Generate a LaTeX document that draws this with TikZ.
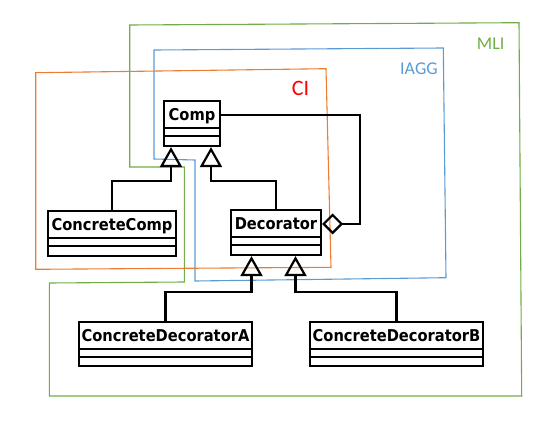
\documentclass[tikz,border=0pt]{standalone}
\usepackage{fontspec}
\newfontfamily\clsfont[FakeStretch=0.9]{DejaVu Sans}
\newfontfamily\lblfont{Carlito}
\usetikzlibrary{arrows.meta,calc}
\definecolor{mligreen}{HTML}{70AD47}
\definecolor{iaggblue}{HTML}{5B9BD5}
\definecolor{ciorange}{HTML}{ED7D31}
\definecolor{cired}{HTML}{FF0000}
\tikzset{
  clsline/.style={draw=black, line width=2.2pt, miter limit=10},
  classbox/.style={clsline, fill=white, rectangle, inner sep=0pt},
  clsname/.style={inner sep=0pt, font={\clsfont\bfseries\fontsize{16.3pt}{19pt}\selectfont}},
  gen/.style={clsline, -{Triangle[open,length=20pt,width=22pt]}},
  agg/.style={clsline, {Diamond[open,length=21pt,width=21pt]}-},
  region/.style={line width=1.1pt, line join=miter},
  rlabel/.style={inner sep=0pt, anchor=base west},
}
\newcommand\umlclass[6]{%
  \node[classbox, minimum width=#4pt, minimum height=#5pt] (#1) at (#2,#3) {};
  \draw[clsline] ($(#1.north west)+(0,28)$) -- ($(#1.north east)+(0,28)$);
  \draw[clsline] ($(#1.north west)+(0,36)$) -- ($(#1.north east)+(0,36)$);
  \node[clsname, anchor=base] (#1-name) at ($(#1.north)+(0,21)$) {#6};
}
\begin{document}
\begin{tikzpicture}[x=1pt,y=-1pt]
\useasboundingbox (0,0) rectangle (554,425);
% regions
\draw[region, draw=mligreen] (129.7,25) -- (519,22.7) -- (521.7,396) -- (49.3,396) -- (49.3,283)
  -- (184.3,282) -- (184.3,167) -- (129.7,167) -- cycle;
\draw[region, draw=iaggblue] (154,50) -- (443.3,48) -- (446,277.7) -- (195,281) -- (195,160)
  -- (154,159) -- cycle;
\draw[region, draw=ciorange] (35.7,72.7) -- (326,68.7) -- (331,267.3) -- (35.7,269.3) -- cycle;
\node[rlabel, text=mligreen, font={\lblfont\fontsize{18pt}{21pt}\selectfont}] (mli) at (476.7,50) {MLI};
\node[rlabel, text=iaggblue, font={\lblfont\fontsize{18pt}{21pt}\selectfont}] (iagg) at (400,74.3) {IAGG};
\node[rlabel, text=cired, font={\lblfont\fontsize{22pt}{26pt}\selectfont}] (ci) at (291.7,96) {CI};
% classes
\umlclass{comp}{192}{123.5}{56}{45}{Comp}
\umlclass{cc}{112}{233.5}{128}{45}{ConcreteComp}
\umlclass{dec}{276}{232.5}{90}{45}{Decorator}
\umlclass{cda}{165.5}{344}{173}{44}{ConcreteDecoratorA}
\umlclass{cdb}{396.5}{344}{173}{44}{ConcreteDecoratorB}
% connectors
\draw[gen] (cc.north) -- ++(0,-29) -| ($(comp.south)+(-21,0)$);
\draw[gen] (dec.north) -- ++(0,-28) -| ($(comp.south)+(19,0)$);
\draw[agg] ($(dec.north east)+(0,15)$) -- ++(38,0) |- ($(comp.north east)+(0,15)$);
\draw[gen] (cda.north) -- ++(0,-29) -| ($(dec.south)+(-24.5,0)$);
\draw[gen] (cdb.north) -- ++(0,-29) -| ($(dec.south)+(19.5,0)$);
\end{tikzpicture}
\end{document}
